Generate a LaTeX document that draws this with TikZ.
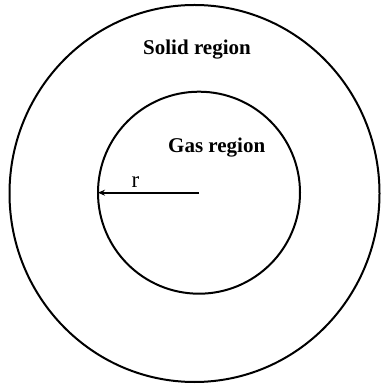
\documentclass[tikz,border=0pt]{standalone}
\usepackage{fontspec}
\setmainfont{Liberation Serif}
\usepackage{tikz}
\usetikzlibrary{arrows.meta, positioning, calc}

\begin{document}
\begin{tikzpicture}[x=1pt, y=1pt, line width=2pt]
    \useasboundingbox (0,0) rectangle (380,385);
    \tikzset{label text/.style={font=\fontsize{21}{24}\selectfont\bfseries}}

    \draw (194.5,191.5) ellipse [x radius=185, y radius=188.5];
    \node[circle, draw, minimum size=202pt, inner sep=0pt, outer sep=0pt] (gas) at (199,192.3) {};

    \node[label text] (solid) at (197,335) {Solid region};
    \node[label text] (gaslabel) at (216.7,237.5) {Gas region};

    \draw[-{Stealth[length=7pt, width=6pt]}, line width=2pt] (gas.center) -- (gas.west) node[pos=0.63, above=1pt, font=\fontsize{23}{26}\selectfont] (radius) {r};
\end{tikzpicture}
\end{document}
